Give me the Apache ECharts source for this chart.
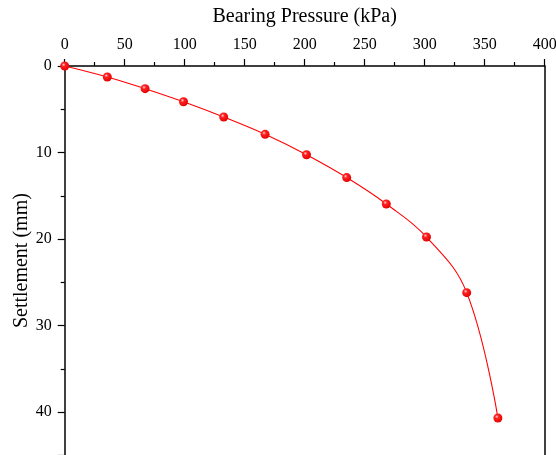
<!DOCTYPE html>
<html>
<head>
<meta charset="utf-8">
<script src="https://cdn.jsdelivr.net/npm/echarts@6/dist/echarts.min.js"></script>
<style>html,body{margin:0;padding:0;background:#fff}#c{width:556px;height:455px}</style>
</head>
<body>
<div id="c"></div>
<script>
const pressure = [0, 35.5, 67, 99, 132.5, 167, 201.5, 235, 268, 301.5, 335, 361];
const settlement = [0, 1.27, 2.62, 4.13, 5.9, 7.9, 10.26, 12.9, 15.95, 19.77, 26.2, 40.7];
const xTitle = 'Bearing Pressure (kPa)';
const yTitle = 'Settlement (mm)';

const font = 'Liberation Serif';
const chart = echarts.init(document.getElementById('c'), null, {renderer: 'canvas'});
const ball = {
  type: 'radial', x: 0.38, y: 0.35, r: 0.7,
  colorStops: [{offset: 0, color: '#ffd0d0'}, {offset: 0.3, color: '#ff2020'}, {offset: 1, color: '#e00000'}]
};
chart.setOption({
  animation: false,
  backgroundColor: '#fff',
  grid: {left: 64.7, top: 66, width: 480, height: 389.25, containLabel: false, outerBoundsMode: 'none'},
  xAxis: {
    type: 'value', position: 'top', min: 0, max: 400, interval: 50,
    name: xTitle, nameLocation: 'middle', nameGap: 39, nameMoveOverlap: false,
    nameTextStyle: {fontFamily: font, fontSize: 20, color: '#000'},
    axisLine: {show: true, onZero: false, lineStyle: {color: '#000', width: 1.5}},
    axisTick: {show: true, inside: false, length: 7, lineStyle: {color: '#000', width: 1.2}},
    minorTick: {show: true, splitNumber: 2, length: 4, lineStyle: {color: '#000', width: 1.2}},
    axisLabel: {fontFamily: font, fontSize: 16, color: '#000', margin: 13},
    splitLine: {show: false}
  },
  yAxis: [{
    type: 'value', inverse: true, min: 0, max: 45, interval: 10,
    name: yTitle, nameLocation: 'middle', nameGap: 33, nameMoveOverlap: false,
    nameTextStyle: {fontFamily: font, fontSize: 20, color: '#000'},
    axisLine: {show: true, onZero: false, lineStyle: {color: '#000', width: 1.5}},
    axisTick: {show: true, inside: false, length: 7, lineStyle: {color: '#000', width: 1.2}},
    minorTick: {show: true, splitNumber: 2, length: 4, lineStyle: {color: '#000', width: 1.2}},
    axisLabel: {fontFamily: font, fontSize: 16, color: '#000', margin: 13, showMaxLabel: false,
      formatter: v => (v % 10 === 0 ? String(v) : '')},
    splitLine: {show: false}
  }, {
    type: 'value', inverse: true, min: 0, max: 45, position: 'right',
    axisLine: {show: true, onZero: false, lineStyle: {color: '#000', width: 1.5}},
    axisTick: {show: false}, axisLabel: {show: false}, splitLine: {show: false}
  }],
  series: [{
    type: 'line',
    data: pressure.map((p, i) => [p, settlement[i]]),
    smooth: 0.4,
    symbol: 'circle', symbolSize: 9,
    lineStyle: {color: '#ff0000', width: 1.1},
    itemStyle: {color: ball, borderWidth: 0}
  }]
});
</script>
</body>
</html>
